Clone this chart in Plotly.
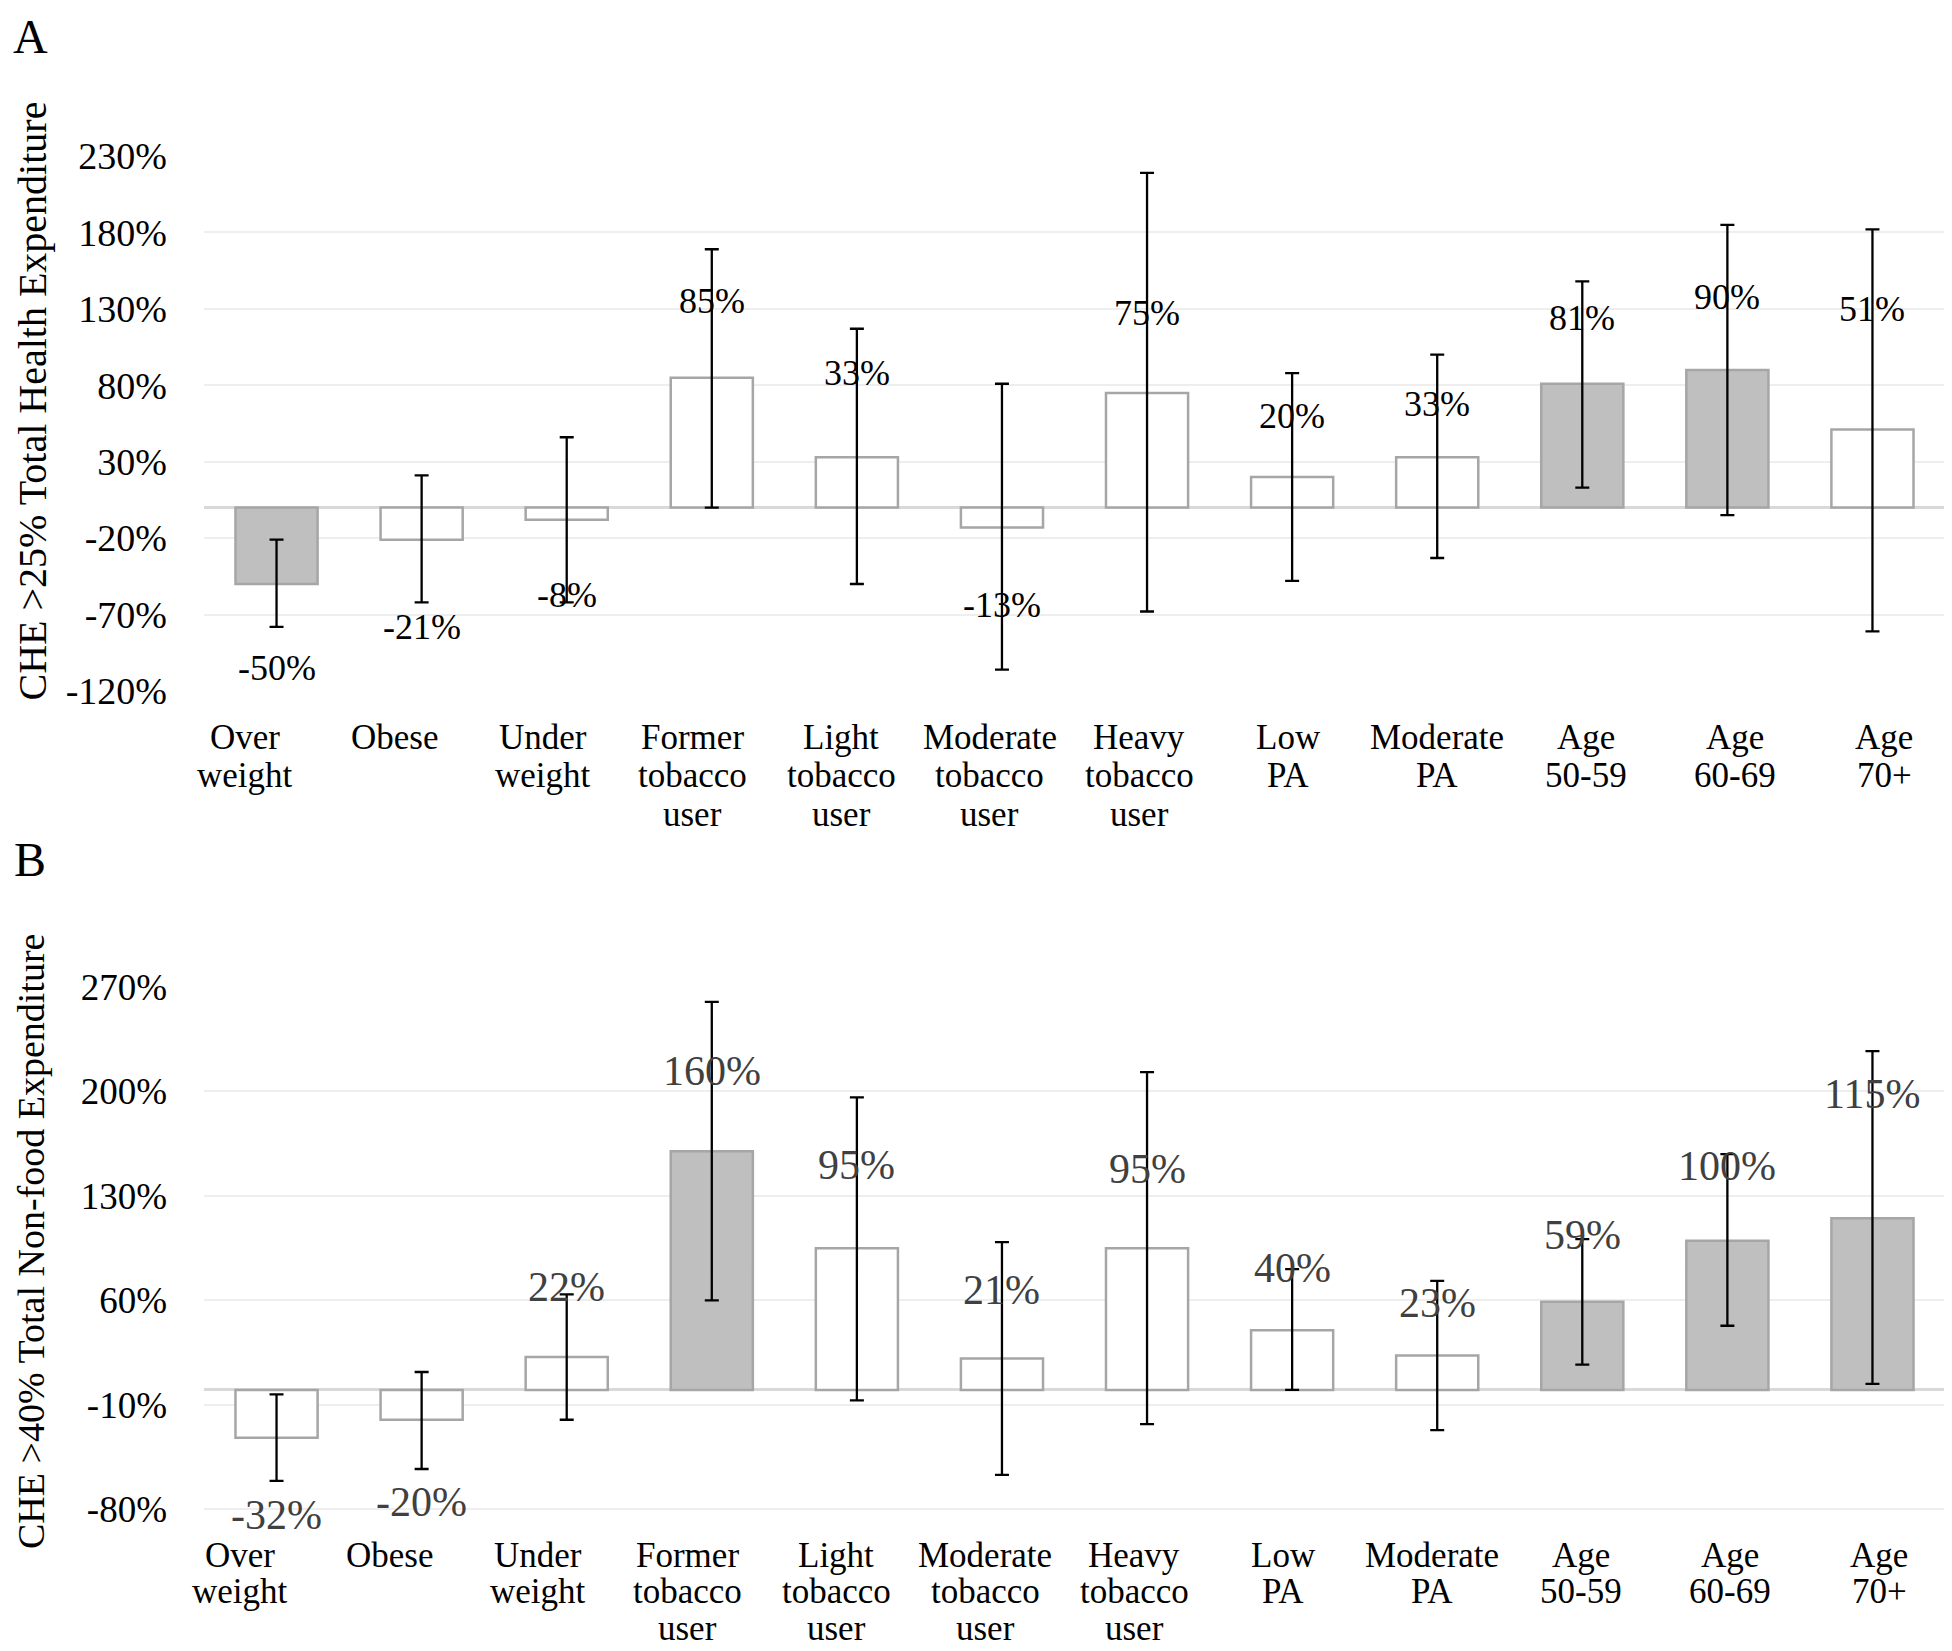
import plotly.graph_objects as go

# ---------------- data ----------------
categories = ["Over<br>weight", "Obese", "Under<br>weight", "Former<br>tobacco<br>user",
              "Light<br>tobacco<br>user", "Moderate<br>tobacco<br>user", "Heavy<br>tobacco<br>user",
              "Low<br>PA", "Moderate<br>PA", "Age<br>50-59", "Age<br>60-69", "Age<br>70+"]

# Panel A: CHE >25% total health expenditure
values_A = [-50, -21, -8, 85, 33, -13, 75, 20, 33, 81, 90, 51]
ci_low_A = [-78, -62, -62, 0, -50, -106, -68, -48, -33, 13, -5, -81]
ci_high_A = [-21, 21, 46, 169, 117, 81, 219, 88, 100, 148, 185, 182]
significant_A = [1, 0, 0, 0, 0, 0, 0, 0, 0, 1, 1, 0]
ticks_A = [-120, -70, -20, 30, 80, 130, 180, 230]

# Panel B: CHE >40% total non-food expenditure
values_B = [-32, -20, 22, 160, 95, 21, 95, 40, 23, 59, 100, 115]
ci_low_B = [-61, -53, -20, 60, -7, -57, -23, 0, -27, 17, 43, 4]
ci_high_B = [-3, 12, 64, 260, 196, 99, 213, 81, 73, 101, 158, 227]
significant_B = [0, 0, 0, 1, 0, 0, 0, 0, 0, 1, 1, 1]
ticks_B = [-80, -10, 60, 130, 200, 270]

# label placement (layout, in data units of each panel)
label_pos_A = [-105, -78, -57, 135, 88, -64, 127, 60, 68, 124, 138, 130]
label_pos_B = [-84, -75, 69, 214, 151, 67, 148, 82, 58, 104, 150, 198]

title_A = "CHE >25% Total Health Expenditure"
title_B = "CHE >40% Total Non-food Expenditure"

# ---------------- style / layout helpers ----------------
FONT = "Liberation Serif, Times New Roman, serif"
W, H = 1952, 1651
OFF = 8  # page body margin
GREY_FILL = "#BFBFBF"
EDGE = "#A6A6A6"


def px_x(p):
    return (p - OFF) / W


def px_y(p):
    return 1 - (p - OFF) / H


def colors(sig):
    return [GREY_FILL if s else "#FFFFFF" for s in sig]


fig = go.Figure()

for vals, lo, hi, sig, xa, ya in [
    (values_A, ci_low_A, ci_high_A, significant_A, "x", "y"),
    (values_B, ci_low_B, ci_high_B, significant_B, "x2", "y2"),
]:
    fig.add_trace(go.Bar(
        x=categories, y=vals, xaxis=xa, yaxis=ya,
        marker=dict(color=colors(sig), line=dict(color=EDGE, width=2.5)),
        error_y=dict(type="data", symmetric=False,
                     array=[h - v for h, v in zip(hi, vals)],
                     arrayminus=[v - l for v, l in zip(vals, lo)],
                     color="black", thickness=2.3, width=7),
        showlegend=False, hoverinfo="skip",
    ))

xdom = [px_x(204), px_x(1945)]
domA = [px_y(691), px_y(156)]
domB = [px_y(1524.2), px_y(987)]

common_x = dict(type="category", showgrid=False, zeroline=False, showline=False,
                ticks="", showticklabels=False, automargin=False, domain=xdom)
common_y = dict(showgrid=True, gridcolor="#EEEEEE", gridwidth=2,
                zeroline=True, zerolinecolor="#D9D9D9", zerolinewidth=3,
                ticks="", ticklabelstandoff=36, automargin=False)
fig.update_layout(
    width=W, height=H,
    margin=dict(l=0, r=0, t=0, b=0),
    paper_bgcolor="white", plot_bgcolor="white",
    bargap=0.434,
    xaxis=dict(**common_x, anchor="y"),
    xaxis2=dict(**common_x, anchor="y2"),
    yaxis=dict(**common_y, domain=domA, range=[-120, 230], tickvals=ticks_A,
               ticktext=[f"{t}%" for t in ticks_A],
               tickfont=dict(family=FONT, size=38, color="black"), anchor="x"),
    yaxis2=dict(**common_y, domain=domB, range=[-90, 270], tickvals=ticks_B,
                ticktext=[f"{t}%" for t in ticks_B],
                tickfont=dict(family=FONT, size=37, color="black"), anchor="x2"),
)

annotations = []
# value labels
for cat, v, p in zip(categories, values_A, label_pos_A):
    annotations.append(dict(x=cat, y=p, xref="x", yref="y", text=f"{v}%",
                            showarrow=False, xanchor="center", yanchor="middle",
                            font=dict(family=FONT, size=36, color="black")))
for cat, v, p in zip(categories, values_B, label_pos_B):
    annotations.append(dict(x=cat, y=p, xref="x2", yref="y2", text=f"{v}%",
                            showarrow=False, xanchor="center", yanchor="middle",
                            font=dict(family=FONT, size=42, color="#404040")))

# category labels (one annotation per text line, tight line spacing)
for x0, y0, step in [(245, 737, 38.5), (240, 1555, 36.5)]:
    for i, cat in enumerate(categories):
        for j, line in enumerate(cat.split("<br>")):
            annotations.append(dict(x=px_x(x0 + 149 * i), y=px_y(y0 + step * j),
                                    xref="paper", yref="paper", text=line,
                                    showarrow=False, xanchor="center", yanchor="middle",
                                    font=dict(family=FONT, size=35, color="black")))

# axis titles and panel letters (kept fully inside the figure)
annotations.append(dict(x=0, y=px_y(401), xref="paper", yref="paper", text=title_A,
                        textangle=-90, showarrow=False, xanchor="left", yanchor="middle",
                        font=dict(family=FONT, size=40, color="black")))
annotations.append(dict(x=0, y=px_y(1242), xref="paper", yref="paper", text=title_B,
                        textangle=-90, showarrow=False, xanchor="left", yanchor="middle",
                        font=dict(family=FONT, size=38, color="black")))
annotations.append(dict(x=px_x(30), y=1, xref="paper", yref="paper", text="A",
                        showarrow=False, xanchor="center", yanchor="top",
                        font=dict(family=FONT, size=48, color="black")))
annotations.append(dict(x=px_x(30), y=px_y(859), xref="paper", yref="paper", text="B",
                        showarrow=False, xanchor="center", yanchor="middle",
                        font=dict(family=FONT, size=48, color="black")))
fig.update_layout(annotations=annotations)

fig.write_html("out.html")
